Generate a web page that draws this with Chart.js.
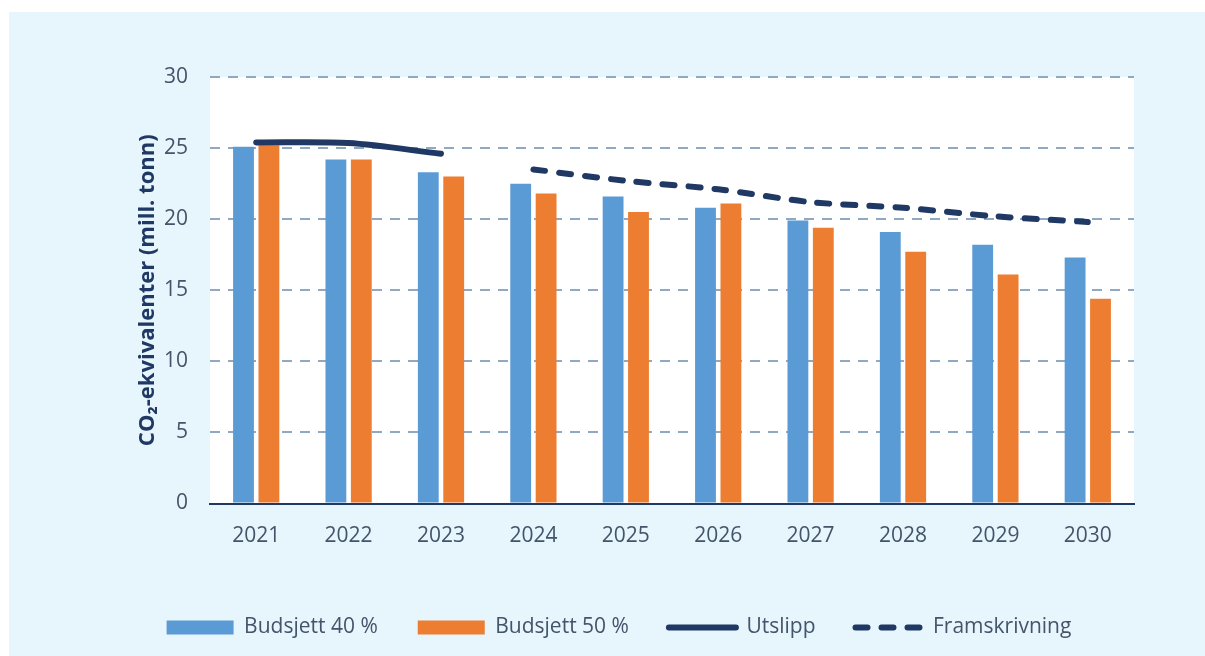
<!DOCTYPE html>
<html>
<head>
<meta charset="utf-8">
<script src="https://cdn.jsdelivr.net/npm/chart.js@4/dist/chart.umd.min.js"></script>
<style>
  html, body { margin: 0; padding: 0; background: #ffffff; }
  #wrap { position: relative; width: 1205px; height: 656px; }
  canvas { display: block; }
</style>
</head>
<body>
<div id="wrap"><canvas id="c" width="1205" height="656"></canvas></div>
<script>
const categories = ['2021', '2022', '2023', '2024', '2025', '2026', '2027', '2028', '2029', '2030'];
const budsjett40 = [25.1, 24.2, 23.3, 22.5, 21.6, 20.8, 19.9, 19.1, 18.2, 17.3];
const budsjett50 = [25.2, 24.2, 23.0, 21.8, 20.5, 21.1, 19.4, 17.7, 16.1, 14.4];
const utslipp = [25.4, 25.35, 24.6, null, null, null, null, null, null, null];
const framskrivning = [null, null, null, 23.5, 22.7, 22.1, 21.2, 20.8, 20.2, 19.8];
const yTicks = [0, 5, 10, 15, 20, 25, 30];
const seriesNames = ['Budsjett 40 %', 'Budsjett 50 %', 'Utslipp', 'Framskrivning'];

const FONT = "'Open Sans', Lato, sans-serif";
const TEXT = '#44546a';
const NAVY = '#1f3864';

const bgPlugin = {
  id: 'bg',
  beforeDraw(chart) {
    const ctx = chart.ctx;
    const a = chart.chartArea;
    ctx.save();
    ctx.fillStyle = '#ffffff';
    ctx.fillRect(0, 0, chart.width, chart.height);
    ctx.fillStyle = '#e7f5fd';
    ctx.fillRect(9, 12, chart.width - 9, chart.height - 12);
    ctx.fillStyle = '#ffffff';
    ctx.fillRect(a.left, a.top, a.right - a.left, a.bottom - a.top);
    ctx.restore();
  }
};

new Chart(document.getElementById('c'), {
  type: 'bar',
  data: {
    labels: categories,
    datasets: [
      { type: 'bar', label: seriesNames[0], data: budsjett40, backgroundColor: '#5b9bd5', borderWidth: 0, order: 2,
        categoryPercentage: 0.55, barPercentage: 0.82 },
      { type: 'bar', label: seriesNames[1], data: budsjett50, backgroundColor: '#ed7d31', borderWidth: 0, order: 2,
        categoryPercentage: 0.55, barPercentage: 0.82 },
      { type: 'line', label: seriesNames[2], data: utslipp, borderColor: NAVY, backgroundColor: NAVY, borderWidth: 6,
        pointRadius: 0, tension: 0.3, borderCapStyle: 'round', borderJoinStyle: 'round', spanGaps: false, order: 0 },
      { type: 'line', label: seriesNames[3], data: framskrivning, borderColor: NAVY, backgroundColor: NAVY, borderWidth: 6,
        borderDash: [12, 14], pointRadius: 0, tension: 0.3, borderCapStyle: 'round', borderJoinStyle: 'round', order: 0 }
    ]
  },
  options: {
    responsive: false,
    animation: false,
    devicePixelRatio: 1,
    layout: { padding: { left: 104, right: 71, top: 77, bottom: 8 } },
    plugins: {
      tooltip: { enabled: false },
      legend: {
        position: 'bottom',
        labels: {
          color: TEXT,
          font: { family: FONT, size: 21 },
          usePointStyle: true,
          pointStyleWidth: 67,
          boxHeight: 14,
          padding: 40,
          generateLabels(chart) {
            return chart.data.datasets.map((ds, i) => ({
              text: ds.label,
              datasetIndex: i,
              fillStyle: ds.type === 'bar' ? ds.backgroundColor : NAVY,
              strokeStyle: ds.type === 'bar' ? ds.backgroundColor : NAVY,
              lineWidth: ds.type === 'bar' ? 0 : 6,
              lineDash: ds.borderDash || [],
              lineCap: 'round',
              pointStyle: ds.type === 'bar' ? 'rect' : 'line',
              fontColor: TEXT,
              hidden: false
            }));
          }
        }
      }
    },
    scales: {
      x: {
        grid: { display: false, drawTicks: false },
        border: { display: true, color: NAVY, width: 2 },
        ticks: { color: TEXT, font: { family: FONT, size: 21 }, padding: 20 },
        afterFit(scale) { scale.height = 73.5; }
      },
      y: {
        min: 0, max: 30,
        afterBuildTicks(scale) { scale.ticks = yTicks.map(v => ({ value: v })); },
        grid: {
          color: (ctx) => ctx.tick && ctx.tick.value === 0 ? 'rgba(0,0,0,0)' : '#8ea9c1',
          lineWidth: 2,
          drawTicks: false
        },
        border: { display: false, dash: [10, 8] },
        ticks: { color: TEXT, font: { family: FONT, size: 21 }, padding: 22 },
        title: {
          display: true,
          text: 'CO₂-ekvivalenter (mill. tonn)',
          color: NAVY,
          font: { family: FONT, size: 22, weight: 'bold' },
          padding: { top: 31, bottom: 0 }
        },
        afterFit(scale) { scale.width = 106; }
      }
    }
  },
  plugins: [bgPlugin]
});
</script>
</body>
</html>
